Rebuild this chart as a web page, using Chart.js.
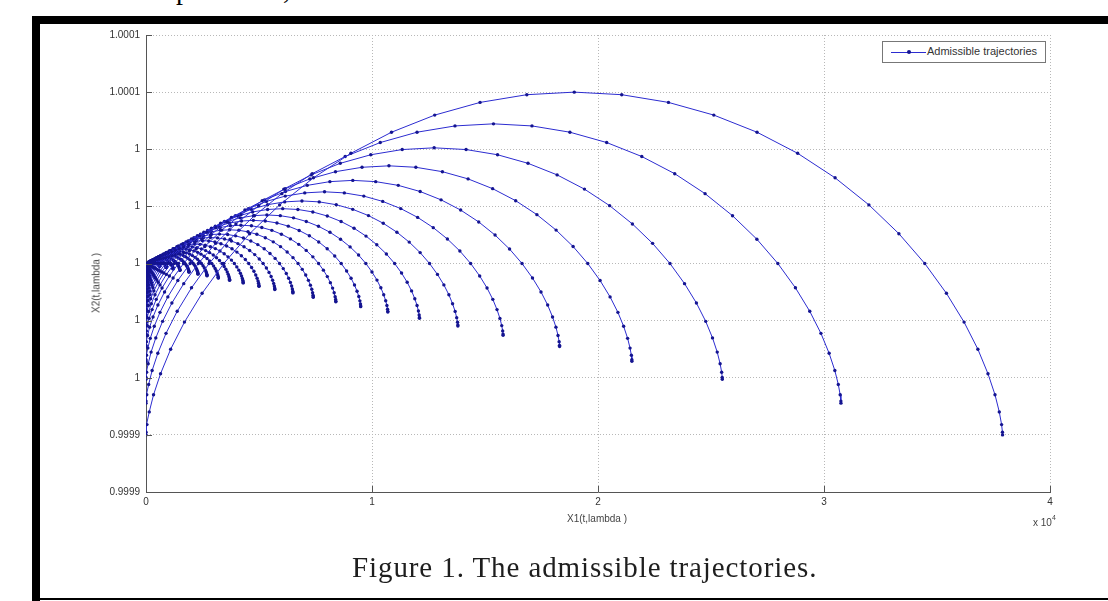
<!DOCTYPE html>
<html lang="en">
<head>
<meta charset="UTF-8">
<title>The admissible trajectories</title>
<script src="https://cdn.jsdelivr.net/npm/chart.js"></script>
<style>
    html, body { margin: 0; padding: 0; background: #fff; overflow: hidden; }
    body { width: 1108px; height: 601px; position: relative; font-family: "Liberation Sans", Arial, sans-serif; }
    #chart { position: absolute; left: 0; top: 0; }
    .frameTop { position: absolute; left: 32px; top: 16px; width: 1076px; height: 8px; background: #000; }
    .frameLeft { position: absolute; left: 32px; top: 16px; width: 8px; height: 585px; background: #000; }
    .frameBottom { position: absolute; left: 32px; top: 598px; width: 1076px; height: 2px; background: #000; }
    .cut { position: absolute; top: -24px; font-family: "Liberation Serif", serif; font-size: 28px; line-height: 28px; color: #000; }
    .axisLabel { position: absolute; font-size: 10px; color: #444; white-space: nowrap; }
    .ylab { left: 96px; top: 283px; transform: translate(-50%, -50%) rotate(-90deg); }
    .xlab { left: 597px; top: 513px; transform: translateX(-50%); }
    .mult { left: 1033px; top: 516px; }
    .mult sup { font-size: 7px; position: relative; top: -2px; }
    .legend { position: absolute; left: 882px; top: 41px; width: 162px; height: 20px; border: 1px solid #777; background: #fff; }
    .legend .sample { position: absolute; left: 8px; top: 10px; width: 35px; height: 1px; background: #2c2cd0; }
    .legend .dot { position: absolute; left: 24px; top: 8px; width: 4px; height: 4px; border-radius: 2px; background: #141490; }
    .legend .txt { position: absolute; left: 44px; top: 3px; font-size: 11px; color: #333; white-space: nowrap; }
    .caption { position: absolute; left: 352px; top: 551px; font-family: "Liberation Serif", serif; font-size: 29px; letter-spacing: 0.9px; color: #1e1e1e; white-space: nowrap; }
</style>
</head>
<body>
    <span class="cut" style="left:176px">p</span>
    <span class="cut" style="left:283px">,</span>
    <div class="frameTop"></div>
    <div class="frameLeft"></div>
    <div class="frameBottom"></div>

    <canvas id="chart" width="1108" height="601"></canvas>

    <span class="axisLabel ylab">X2(t,lambda )</span>
    <span class="axisLabel xlab">X1(t,lambda )</span>
    <span class="axisLabel mult">x 10<sup>4</sup></span>
    <div class="legend">
        <div class="sample"></div>
        <div class="dot"></div>
        <span class="txt">Admissible trajectories</span>
    </div>
    <div class="caption">Figure 1. The admissible trajectories.</div>

<script>
    // ejes
    const xTickValues = [0, 10000, 20000, 30000, 40000];
    const xTickLabels = ['0', '1', '2', '3', '4'];
    const yTickValues = [0.99992, 0.99994, 0.99996, 0.99998, 1, 1.00002, 1.00004, 1.00006, 1.00008];
    const yTickLabels = ['0.9999', '0.9999', '1', '1', '1', '1', '1', '1.0001', '1.0001'];

    // forma de la trayectoria mayor (arco tipo cicloide):
    // x sobre su extremo derecho, y sobre su altura (de -1 abajo a 1 en la cima)
    const shapeX = [0, 0.0001, 0.0011, 0.0038, 0.0088, 0.0170, 0.0288, 0.0449, 0.0655, 0.0908,
                    0.1210, 0.1560, 0.1955, 0.2392, 0.2866, 0.3371, 0.3900, 0.4446, 0.5,
                    0.5554, 0.6100, 0.6629, 0.7134, 0.7608, 0.8045, 0.8440, 0.8790, 0.9092,
                    0.9345, 0.9551, 0.9712, 0.9830, 0.9912, 0.9962, 0.9989, 0.9999, 1];
    const shapeY = [-1, -0.985, -0.940, -0.866, -0.766, -0.643, -0.5, -0.342, -0.174, 0,
                    0.174, 0.342, 0.5, 0.643, 0.766, 0.866, 0.940, 0.985, 1,
                    0.985, 0.940, 0.866, 0.766, 0.643, 0.5, 0.342, 0.174, 0,
                    -0.174, -0.342, -0.5, -0.643, -0.766, -0.866, -0.940, -0.985, -1];

    // extremo derecho (X1) y altura (X2 - 1) de cada trayectoria
    const trajEndX1 = [37900, 30750, 25500, 21500, 18300, 15800, 13800, 12100, 10700, 9500, 8400, 7400,
                       6500, 5700, 5000, 4300, 3700, 3200, 2700, 2300, 1900, 1500, 1200, 900, 600];
    const trajHeight = [6.0e-5, 4.89e-5, 4.05e-5, 3.42e-5, 2.91e-5, 2.51e-5, 2.19e-5, 1.92e-5, 1.70e-5,
                        1.51e-5, 1.34e-5, 1.18e-5, 1.03e-5, 0.91e-5, 0.80e-5, 0.68e-5, 0.59e-5, 0.51e-5,
                        0.43e-5, 0.37e-5, 0.30e-5, 0.24e-5, 0.19e-5, 0.14e-5, 0.10e-5];

    const datasets = trajEndX1.map(function (endX, k) {
        return {
            label: 'Admissible trajectories',
            data: shapeX.map(function (u, i) {
                return { x: u * endX, y: 1 + shapeY[i] * trajHeight[k] };
            }),
            showLine: true,
            borderColor: '#2c2cd0',
            borderWidth: 1,
            pointRadius: 1.7,
            pointBorderWidth: 0,
            pointBackgroundColor: '#141490'
        };
    });

    // marcas de los ejes hacia dentro, como en matlab
    const insideTicks = {
        id: 'insideTicks',
        afterDraw(chart) {
            const ctx = chart.ctx, area = chart.chartArea;
            ctx.save();
            ctx.strokeStyle = '#555';
            ctx.lineWidth = 1;
            chart.scales.x.ticks.forEach(function (t) {
                const px = Math.round(chart.scales.x.getPixelForValue(t.value)) + 0.5;
                ctx.beginPath(); ctx.moveTo(px, area.bottom); ctx.lineTo(px, area.bottom - 6); ctx.stroke();
            });
            chart.scales.y.ticks.forEach(function (t) {
                const py = Math.round(chart.scales.y.getPixelForValue(t.value)) + 0.5;
                ctx.beginPath(); ctx.moveTo(area.left, py); ctx.lineTo(area.left + 6, py); ctx.stroke();
            });
            ctx.restore();
        }
    };

    new Chart(document.getElementById('chart'), {
        type: 'scatter',
        data: { datasets: datasets },
        plugins: [insideTicks],
        options: {
            responsive: false,
            animation: false,
            layout: { padding: { top: 35, right: 58, left: 0, bottom: 0 } },
            plugins: { legend: { display: false }, tooltip: { enabled: false } },
            scales: {
                x: {
                    type: 'linear', min: 0, max: 40000,
                    afterBuildTicks: function (s) { s.ticks = xTickValues.map(function (v) { return { value: v }; }); },
                    afterFit: function (s) { s.height = 109; },
                    ticks: {
                        callback: function (v, i) { return xTickLabels[i]; },
                        font: { family: 'Liberation Sans', size: 10 }, color: '#333', padding: 4, maxRotation: 0
                    },
                    grid: { color: '#b8b8b8', drawTicks: false },
                    border: { color: '#555', width: 1, dash: [1, 2] }
                },
                y: {
                    type: 'linear', min: 0.99992, max: 1.00008,
                    afterBuildTicks: function (s) { s.ticks = yTickValues.map(function (v) { return { value: v }; }); },
                    afterFit: function (s) { s.width = 146; },
                    ticks: {
                        callback: function (v, i) { return yTickLabels[i]; },
                        font: { family: 'Liberation Sans', size: 10 }, color: '#333', padding: 6
                    },
                    grid: { color: '#b8b8b8', drawTicks: false },
                    border: { color: '#555', width: 1, dash: [1, 2] }
                }
            }
        }
    });
</script>
</body>
</html>
